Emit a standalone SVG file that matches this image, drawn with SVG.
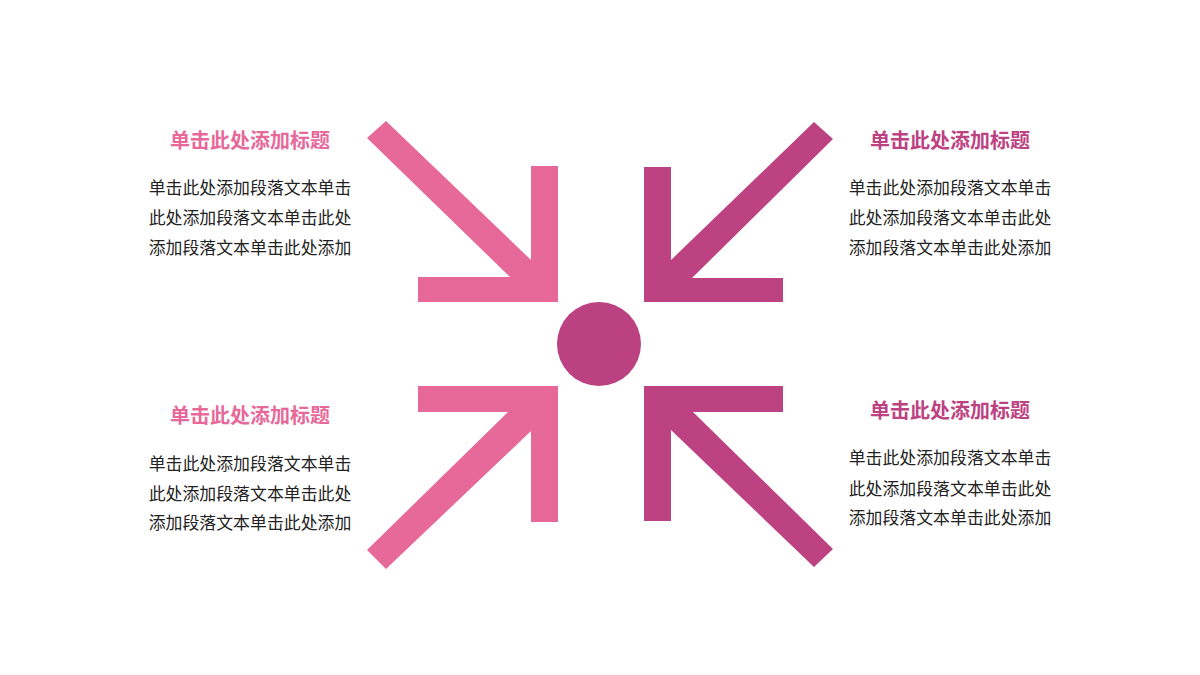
<svg xmlns="http://www.w3.org/2000/svg" width="1200" height="675" viewBox="0 0 1200 675">
<style>
.t{font-family:"Liberation Sans","Noto Sans CJK SC",sans-serif;font-size:20px;font-weight:bold;text-anchor:middle}
.b{font-family:"Liberation Sans","Noto Sans CJK SC",sans-serif;font-size:16.9px;fill:#222;text-anchor:middle}
.pl{fill:#E6699A}
.pr{fill:#BD4282}
</style>
<rect width="1200" height="675" fill="#fff"/>
<g id="arrows">
<polygon class="pl" points="386,121 531,260 531,166 558,166 558,302 418,302 418,277 510,277 367,138"/>
<polygon class="pr" points="814,122 671,260 671,167 644,167 644,302 783,302 783,278 692,278 833,139"/>
<polygon class="pl" points="367,550 508,412 418,412 418,386 558,386 558,522 531,522 531,431 386,569"/>
<polygon class="pr" points="833,549 693,412 783,412 783,386 644,386 644,521 671,521 671,430 814,567"/>
</g>
<g id="center"><circle cx="599" cy="344" r="42" fill="#BC4181"/></g>
<g id="node-tl">
<text class="t" x="250" y="148" fill="#E6699A">单击此处添加标题</text>
<text class="b" x="250" y="193.7">单击此处添加段落文本单击</text>
<text class="b" x="250" y="224">此处添加段落文本单击此处</text>
<text class="b" x="250" y="254">添加段落文本单击此处添加</text>
</g>
<g id="node-tr">
<text class="t" x="950" y="148" fill="#BD4282">单击此处添加标题</text>
<text class="b" x="950" y="193.7">单击此处添加段落文本单击</text>
<text class="b" x="950" y="224">此处添加段落文本单击此处</text>
<text class="b" x="950" y="254">添加段落文本单击此处添加</text>
</g>
<g id="node-bl">
<text class="t" x="250" y="423" fill="#E6699A">单击此处添加标题</text>
<text class="b" x="250" y="469.7">单击此处添加段落文本单击</text>
<text class="b" x="250" y="499.5">此处添加段落文本单击此处</text>
<text class="b" x="250" y="528.7">添加段落文本单击此处添加</text>
</g>
<g id="node-br">
<text class="t" x="950" y="418" fill="#BD4282">单击此处添加标题</text>
<text class="b" x="950" y="463.5">单击此处添加段落文本单击</text>
<text class="b" x="950" y="494.5">此处添加段落文本单击此处</text>
<text class="b" x="950" y="524">添加段落文本单击此处添加</text>
</g>
</svg>
